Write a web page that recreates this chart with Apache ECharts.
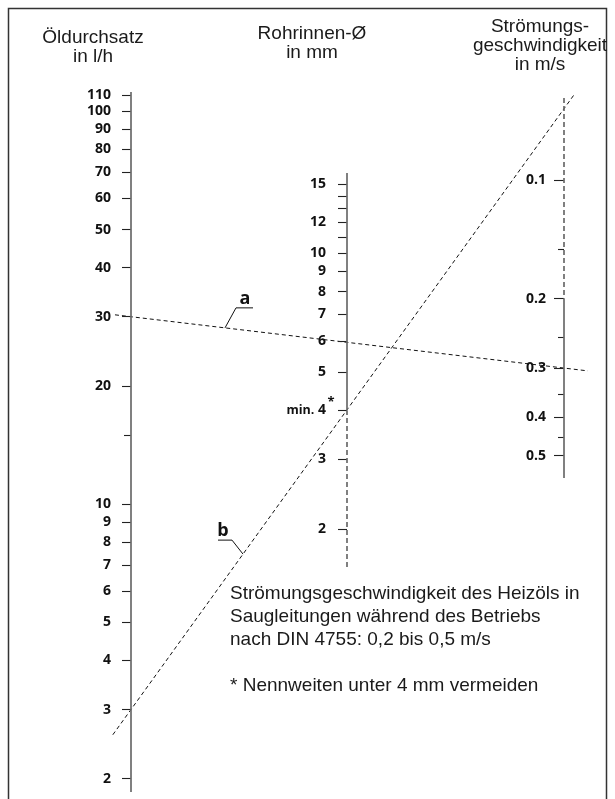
<!DOCTYPE html>
<html><head><meta charset="utf-8">
<script src="https://cdn.jsdelivr.net/npm/echarts@6/dist/echarts.min.js"></script>
<style>html,body{margin:0;padding:0;background:#fff}#c{width:615px;height:799px}</style>
</head><body><div id="c"></div>
<script>
// ---------- data ----------
const flowLabels = [2, 3, 4, 5, 6, 7, 8, 9, 10, 20, 30, 40, 50, 60, 70, 80, 90, 100, 110];
const flowMinor = [15];
const flowRange = [1.85, 112];

const diaLabels = [2, 3, 4, 5, 6, 7, 8, 9, 10, 12, 15];
const diaMinor = [11, 13, 14];
const diaRange = [1.6, 16];
const diaMinimum = 4;

const speedLabels = [0.1, 0.2, 0.3, 0.4, 0.5];
const speedMinor = [0.15, 0.25, 0.35, 0.45];
const speedRange = [0.062, 0.57];
const speedRecommendedFrom = 0.2;

const exampleA = { name: 'a', flow: 30, speed: 0.3 };
const exampleB = { name: 'b', flow: 3, speed: 0.066 };

const titleFlow = ['Öldurchsatz', 'in l/h'];
const titleDia = ['Rohrinnen-Ø', 'in mm'];
const titleSpeed = ['Strömungs-', 'geschwindigkeit', 'in m/s'];
const noteLines = ['Strömungsgeschwindigkeit des Heizöls in', 'Saugleitungen während des Betriebs', 'nach DIN 4755: 0,2 bis 0,5 m/s'];
const footnote = '* Nennweiten unter 4 mm vermeiden';

// ---------- chart ----------
const chart = echarts.init(document.getElementById('c'), null, { renderer: 'canvas' });
const LBL = { fontFamily: 'Open Sans', fontWeight: 'bold', fontSize: 14, color: '#111' };
const AXIS_GRAY = '#6a6a6a';
const fmt = v => String(+(+v).toPrecision(6));

function gridCfg(left, top, height) {
  return { left: left, top: top, width: 20, height: height, outerBoundsMode: 'none', containLabel: false };
}
function xCfg(i) { return { type: 'value', gridIndex: i, min: 0, max: 1, show: false }; }
function yMajor(i, range, vals, len, margin, inverse, formatter) {
  return {
    type: 'log', gridIndex: i, position: 'left', min: range[0], max: range[1], inverse: !!inverse,
    axisLine: { show: false }, splitLine: { show: false }, minorTick: { show: false },
    axisTick: { show: true, customValues: vals, length: len, lineStyle: { color: '#222', width: 1.1 } },
    axisLabel: Object.assign({ show: true, customValues: vals, margin: margin, formatter: formatter || fmt,
      rich: {
        m: Object.assign({}, LBL, { fontSize: 12.5 }),
        n: Object.assign({}, LBL)
      } }, LBL)
  };
}
function yMinor(i, range, vals, len, inverse) {
  return {
    type: 'log', gridIndex: i, position: 'left', min: range[0], max: range[1], inverse: !!inverse,
    axisLine: { show: false }, splitLine: { show: false }, axisLabel: { show: false },
    axisTick: { show: true, customValues: vals, length: len, lineStyle: { color: '#222', width: 1.1 } }
  };
}
function seg(ax, a, b, dashed) {
  return { type: 'line', xAxisIndex: ax[0], yAxisIndex: ax[1], data: [[0, a], [0, b]], symbol: 'none',
    silent: true, clip: false, animation: false, z: 1,
    lineStyle: { color: AXIS_GRAY, width: 1.7, type: dashed ? [5, 3] : 'solid' } };
}

chart.setOption({
  animation: false,
  grid: [gridCfg(131, 92, 700), gridCfg(347, 173, 394), gridCfg(564, 98, 380)],
  xAxis: [xCfg(0), xCfg(1), xCfg(2)],
  yAxis: [
    yMajor(0, flowRange, flowLabels, 9, 20),
    yMinor(0, flowRange, flowMinor, 7),
    yMajor(1, diaRange, diaLabels, 9, 21, false,
      v => Math.abs(+v - diaMinimum) < 1e-6 ? '{m|min.} {n|' + diaMinimum + '}' : fmt(v)),
    yMinor(1, diaRange, diaMinor, 9),
    yMajor(2, speedRange, speedLabels, 10, 18, true),
    yMinor(2, speedRange, speedMinor, 6, true)
  ],
  series: [
    seg([0, 0], flowRange[0], flowRange[1], false),
    seg([1, 2], diaMinimum, diaRange[1], false),
    seg([1, 2], diaRange[0], diaMinimum, true),
    seg([2, 4], speedRange[0], speedRecommendedFrom, true),
    seg([2, 4], speedRecommendedFrom, speedRange[1], false)
  ]
});

// ---------- example lines through the scales ----------
function exampleLine(ex, t0, t1) {
  const pL = chart.convertToPixel({ xAxisIndex: 0, yAxisIndex: 0 }, [0, ex.flow]);
  const pR = chart.convertToPixel({ xAxisIndex: 2, yAxisIndex: 4 }, [0, ex.speed]);
  const at = t => [pL[0] + (pR[0] - pL[0]) * t, pL[1] + (pR[1] - pL[1]) * t];
  return { p0: at(t0), p1: at(t1), atX: x => at((x - pL[0]) / (pR[0] - pL[0])) };
}
const la = exampleLine(exampleA, -0.037, 1.055);
const lb = exampleLine(exampleB, -0.042, 1.023);
const DASH = { stroke: '#111', lineWidth: 1, lineDash: [4, 3] };
const SOLID = { stroke: '#111', lineWidth: 1 };

const pa = la.atX(225);
const pb = lb.atX(243);
const pMin = chart.convertToPixel({ xAxisIndex: 1, yAxisIndex: 2 }, [0, diaMinimum]);
const TXT = '19px "Liberation Sans", Arial, sans-serif';
const LETTER = 'bold 18px "Open Sans", sans-serif';

function titleText(lines, x, y) {
  return { type: 'text', x: x, y: y, silent: true,
    style: { text: lines.join('\n'), font: TXT, lineHeight: 19, align: 'center', verticalAlign: 'top', fill: '#1a1a1a' } };
}

chart.setOption({
  graphic: [
    { type: 'rect', shape: { x: 8.5, y: 8.5, width: 598, height: 830 }, style: { fill: 'none', stroke: '#333', lineWidth: 1.5 }, silent: true },
    titleText(titleFlow, 93, 28),
    titleText(titleDia, 312, 24),
    titleText(titleSpeed, 540, 17),
    { type: 'line', shape: { x1: la.p0[0], y1: la.p0[1], x2: la.p1[0], y2: la.p1[1] }, style: DASH, silent: true },
    { type: 'line', shape: { x1: lb.p0[0], y1: lb.p0[1], x2: lb.p1[0], y2: lb.p1[1] }, style: DASH, silent: true },
    // asterisk on the minimum diameter label
    { type: 'text', x: pMin[0] - 16, y: pMin[1] - 8, silent: true,
      style: { text: '*', font: 'bold 13px "Open Sans", sans-serif', align: 'center', verticalAlign: 'middle', fill: '#111' } },
    // label a
    { type: 'polyline', shape: { points: [[pa[0], pa[1]], [pa[0] + 11, pa[1] - 20], [pa[0] + 28, pa[1] - 20]] }, style: Object.assign({ fill: 'none' }, SOLID), silent: true },
    { type: 'text', x: pa[0] + 20, y: pa[1] - 20, style: { text: exampleA.name, font: LETTER, align: 'center', verticalAlign: 'bottom', fill: '#111' }, silent: true },
    // label b
    { type: 'polyline', shape: { points: [[pb[0], pb[1]], [pb[0] - 11, pb[1] - 14], [pb[0] - 25, pb[1] - 14]] }, style: Object.assign({ fill: 'none' }, SOLID), silent: true },
    { type: 'text', x: pb[0] - 20, y: pb[1] - 14, style: { text: exampleB.name, font: LETTER, align: 'center', verticalAlign: 'bottom', fill: '#111' }, silent: true },
    // notes
    { type: 'text', x: 230, y: 582, silent: true,
      style: { text: noteLines.join('\n'), font: TXT, lineHeight: 23, align: 'left', verticalAlign: 'top', fill: '#1a1a1a' } },
    { type: 'text', x: 230, y: 676, silent: true,
      style: { text: footnote, font: TXT, align: 'left', verticalAlign: 'top', fill: '#1a1a1a' } }
  ]
});
</script>
</body></html>
